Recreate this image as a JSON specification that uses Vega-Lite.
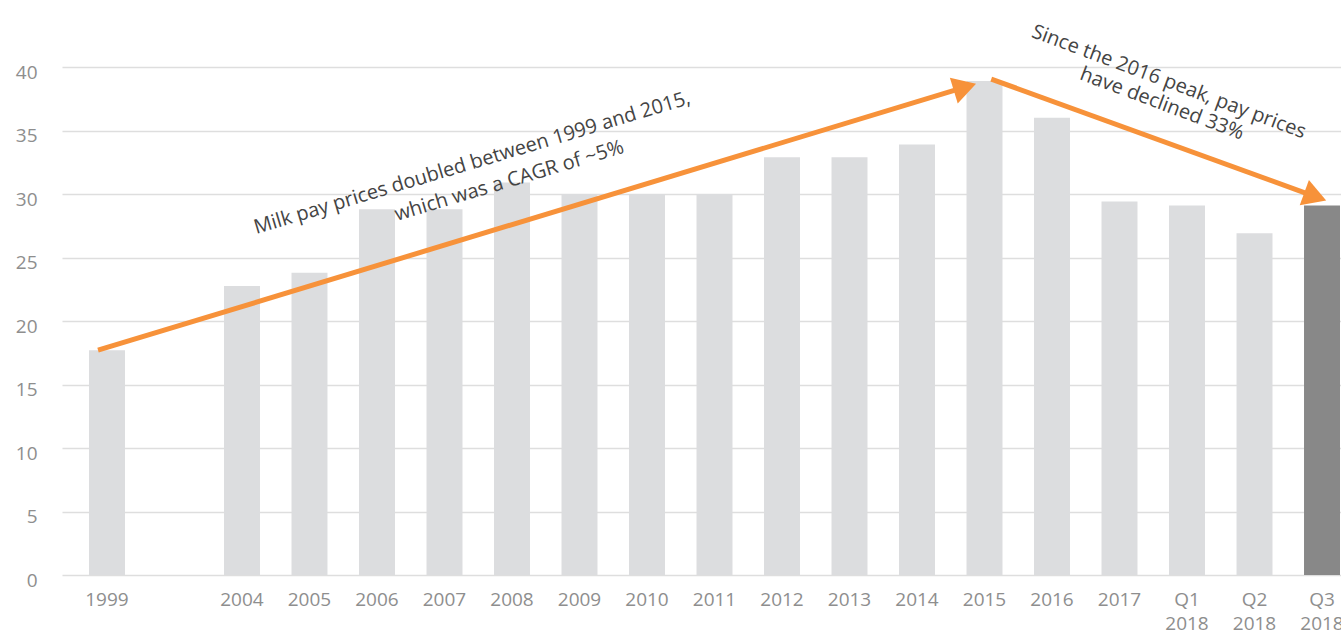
{
  "$schema": "https://vega.github.io/schema/vega-lite/v6.json",
  "width": 1279,
  "height": 508,
  "autosize": "none",
  "padding": {"left": 62, "top": 67, "right": 0, "bottom": 58},
  "background": "white",
  "config": {
    "view": {"stroke": null},
    "font": "Open Sans"
  },
  "layer": [
    {
      "data": {
        "values": [
          {"period": "1999", "price": 17.7, "current": "no"},
          {"period": "2004", "price": 22.75, "current": "no"},
          {"period": "2005", "price": 23.8, "current": "no"},
          {"period": "2006", "price": 28.8, "current": "no"},
          {"period": "2007", "price": 28.8, "current": "no"},
          {"period": "2008", "price": 30.9, "current": "no"},
          {"period": "2009", "price": 30.0, "current": "no"},
          {"period": "2010", "price": 30.0, "current": "no"},
          {"period": "2011", "price": 30.0, "current": "no"},
          {"period": "2012", "price": 32.9, "current": "no"},
          {"period": "2013", "price": 32.9, "current": "no"},
          {"period": "2014", "price": 33.9, "current": "no"},
          {"period": "2015", "price": 38.9, "current": "no"},
          {"period": "2016", "price": 36.0, "current": "no"},
          {"period": "2017", "price": 29.4, "current": "no"},
          {"period": "Q1 2018", "price": 29.1, "current": "no"},
          {"period": "Q2 2018", "price": 26.9, "current": "no"},
          {"period": "Q3 2018", "price": 29.1, "current": "yes"}
        ]
      },
      "mark": {"type": "bar", "y2Offset": 3},
      "encoding": {
        "x": {
          "field": "period",
          "type": "nominal",
          "sort": null,
          "scale": {
            "domain": ["1999", "gap", "2004", "2005", "2006", "2007", "2008", "2009", "2010", "2011", "2012", "2013", "2014", "2015", "2016", "2017", "Q1 2018", "Q2 2018", "Q3 2018"],
            "range": [0, 1305],
            "paddingInner": 0.467,
            "paddingOuter": 0.4
          },
          "axis": {
            "title": null,
            "labelAngle": 0,
            "domain": false,
            "ticks": false,
            "grid": false,
            "labelColor": "#8e8e8e",
            "labelFontSize": 19,
            "labelFont": "Open Sans",
            "labelPadding": 15,
            "labelLineHeight": 24,
            "labelExpr": "datum.value == 'gap' ? '' : split(datum.value, ' ')"
          }
        },
        "y": {
          "field": "price",
          "type": "quantitative",
          "scale": {"domain": [0, 40], "nice": false},
          "axis": {
            "title": null,
            "values": [0, 5, 10, 15, 20, 25, 30, 35, 40],
            "domain": false,
            "ticks": false,
            "grid": true,
            "gridColor": "#dedede",
            "gridWidth": 1.5,
            "labelColor": "#8e8e8e",
            "labelFontSize": 19,
            "labelFont": "Open Sans",
            "labelPadding": 25,
            "labelOffset": 5
          }
        },
        "color": {
          "field": "current",
          "type": "nominal",
          "scale": {"domain": ["no", "yes"], "range": ["#dcdddf", "#888888"]},
          "legend": null
        }
      }
    },
    {
      "data": {
        "values": [
          {"arrow": "rise", "pos": -0.133, "price": 17.7},
          {"arrow": "rise", "pos": 12.71, "price": 38.41},
          {"arrow": "fall", "pos": 13.1, "price": 39.05},
          {"arrow": "fall", "pos": 17.9, "price": 29.8}
        ]
      },
      "mark": {"type": "line", "color": "#f7923a", "strokeWidth": 5, "clip": false},
      "encoding": {
        "x": {"field": "pos", "type": "quantitative", "scale": {"domain": [-0.66667, 18.28148], "nice": false, "zero": false}, "axis": null},
        "y": {"field": "price", "type": "quantitative"},
        "detail": {"field": "arrow"}
      }
    },
    {
      "data": {"values": [{"pos": 12.71, "price": 38.41}]},
      "mark": {"type": "point", "shape": "triangle-up", "filled": true, "color": "#f7923a", "opacity": 1, "size": 720, "angle": 73},
      "encoding": {
        "x": {"field": "pos", "type": "quantitative", "scale": {"domain": [-0.66667, 18.28148], "nice": false, "zero": false}, "axis": null},
        "y": {"field": "price", "type": "quantitative"}
      }
    },
    {
      "data": {"values": [{"pos": 17.9, "price": 29.8}]},
      "mark": {"type": "point", "shape": "triangle-up", "filled": true, "color": "#f7923a", "opacity": 1, "size": 720, "angle": 110},
      "encoding": {
        "x": {"field": "pos", "type": "quantitative", "scale": {"domain": [-0.66667, 18.28148], "nice": false, "zero": false}, "axis": null},
        "y": {"field": "price", "type": "quantitative"}
      }
    },
    {
      "data": {
        "values": [
          {"note": "Milk pay prices doubled between 1999 and 2015,", "pos": 5.41, "price": 32.44},
          {"note": "which was a CAGR of ~5%", "pos": 5.96, "price": 31.02}
        ]
      },
      "mark": {"type": "text", "angle": -16.7, "align": "center", "baseline": "middle", "fontSize": 20, "color": "#444444", "font": "Open Sans"},
      "encoding": {
        "x": {"field": "pos", "type": "quantitative", "scale": {"domain": [-0.66667, 18.28148], "nice": false, "zero": false}, "axis": null},
        "y": {"field": "price", "type": "quantitative"},
        "text": {"field": "note"}
      }
    },
    {
      "data": {
        "values": [
          {"note": "Since the 2016 peak, pay prices", "pos": 15.73, "price": 38.82},
          {"note": "have declined 33%", "pos": 15.63, "price": 37.1}
        ]
      },
      "mark": {"type": "text", "angle": 20.5, "align": "center", "baseline": "middle", "fontSize": 20, "color": "#444444", "font": "Open Sans", "clip": false},
      "encoding": {
        "x": {"field": "pos", "type": "quantitative", "scale": {"domain": [-0.66667, 18.28148], "nice": false, "zero": false}, "axis": null},
        "y": {"field": "price", "type": "quantitative"},
        "text": {"field": "note"}
      }
    }
  ],
  "resolve": {"scale": {"x": "independent"}}
}
